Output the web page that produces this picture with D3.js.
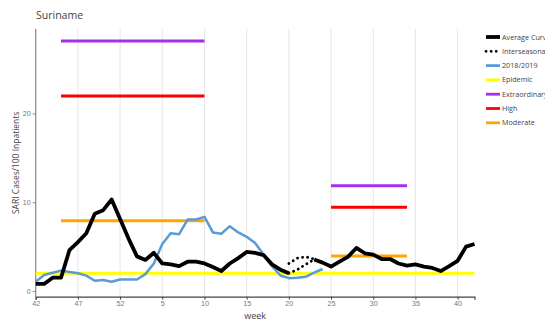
<!DOCTYPE html>
<html>
<head>
<meta charset="utf-8">
<script src="https://cdn.jsdelivr.net/npm/d3@7"></script>
<style>
  body { margin: 0; background: #fff; }
  svg { display: block; font-family: "Open Sans", "DejaVu Sans", sans-serif; }
</style>
</head>
<body>
<svg id="chart" width="545" height="322"></svg>
<script>
// weeks along x axis (season 42 -> 42 next year)
var weeks = [42, 43, 44, 45, 46, 47, 48, 49, 50, 51, 52,
  1, 2, 3, 4, 5, 6, 7, 8, 9, 10, 11, 12, 13, 14, 15, 16, 17, 18, 19, 20,
  21, 22, 23, 24, 25, 26, 27, 28, 29, 30, 31, 32, 33, 34, 35, 36, 37, 38, 39, 40, 41, 42];
var tickWeeks = [42, 47, 52, 5, 10, 15, 20, 25, 30, 35, 40];
var yTicks = [0, 10, 20];

// average curve (null = gap where interseasonal is shown)
var averageCurve = [0.8, 0.8, 1.5, 1.5, 4.6, 5.5, 6.5, 8.7, 9.1, 10.3, 8.1,
  5.9, 3.9, 3.5, 4.3, 3.1, 3.0, 2.8, 3.3, 3.3, 3.1,
  2.7, 2.25, 3.1, 3.7, 4.4, 4.3, 4.05, 3.0, 2.4, 2.0,
  null, null, 3.55, 3.2, 2.75, 3.3, 3.85, 4.85, 4.25, 4.1,
  3.6, 3.6, 3.1, 2.85, 3.0, 2.75, 2.6, 2.25, 2.8, 3.4, 5.0, 5.3];

// interseasonal, two dotted pieces starting at week 20
var interStartWeek = 20;
var interseasonalA = [3.1, 3.7, 3.85, 3.6];
var interseasonalB = [2.0, 2.4, 3.0, 3.55];

// season 2018/2019 (ends at week 24)
var season2018 = [1.05, 1.8, 2.06, 2.3, 2.14, 2.0, 1.73, 1.16, 1.24, 1.05, 1.3,
  1.3, 1.3, 1.9, 3.1, 5.3, 6.5, 6.4, 8.05, 8.05, 8.35,
  6.6, 6.45, 7.3, 6.6, 6.1, 5.4, 4.1, 2.8, 1.75, 1.45,
  1.5, 1.6, 2.06, 2.48];

// thresholds: [start week, end week, value]
var epidemic = [[42, 42, 2.0]];
var extraordinary = [[45, 10, 28.15], [25, 34, 11.86]];
var high = [[45, 10, 21.96], [25, 34, 9.42]];
var moderate = [[45, 10, 7.92], [25, 34, 3.94]];

var legendNames = ["Average Curve", "Interseasonal", "2018/2019", "Epidemic", "Extraordinary", "High", "Moderate"];
var colors = {
  avg: "#000000", blue: "#5b9bd5", epi: "#ffff00",
  extra: "#a42ff0", high: "#ff0000", mod: "#ffa500"
};

var svg = d3.select("#chart");
var margin = {left: 35.7, right: 474.5, top: 29, bottom: 296.7};

var x = d3.scaleLinear().domain([0, weeks.length - 1]).range([margin.left, margin.right]);
var y = d3.scaleLinear().domain([-0.64, 29.5]).range([margin.bottom, margin.top]);

// week -> index; the first occurrence, except the closing 42 which uses the last
function idx(w, last) {
  return last ? weeks.lastIndexOf(w) : weeks.indexOf(w);
}
var tickIdx = tickWeeks.map(function (w) { return idx(w); });

//grid
svg.append("g").selectAll("line")
  .data(tickIdx.slice(1)).enter()
  .append("line")
  .attr("x1", function (d) { return x(d); })
  .attr("x2", function (d) { return x(d); })
  .attr("y1", margin.top)
  .attr("y2", margin.bottom)
  .attr("stroke", "#e6e6e6")
  .attr("stroke-width", 1);

//axes
var xAxis = d3.axisBottom(x)
  .tickValues(tickIdx)
  .tickFormat(function (d) { return weeks[d]; })
  .tickSize(3)
  .tickPadding(1);
var gx = svg.append("g")
  .attr("transform", "translate(0," + margin.bottom + ")")
  .call(xAxis);
gx.select(".domain").attr("stroke", "#444").attr("stroke-width", 1.2);
gx.selectAll(".tick line").attr("stroke", "#444");
gx.selectAll("text").attr("fill", "#777").style("font-size", "7.2px");

var yAxis = d3.axisLeft(y).tickValues(yTicks).tickSize(3).tickPadding(2);
var gy = svg.append("g")
  .attr("transform", "translate(" + margin.left + ",0)")
  .call(yAxis);
gy.select(".domain").attr("stroke", "#888").attr("stroke-width", 1.2)
  .attr("d", "M0," + margin.top + "V" + margin.bottom);
gy.selectAll(".tick line").attr("stroke", "#888");
gy.selectAll("text").attr("fill", "#777").style("font-size", "7.2px");

//titles
svg.append("text")
  .attr("x", 36).attr("y", 19)
  .attr("fill", "#444")
  .style("font-size", "10.5px")
  .text("Suriname");
svg.append("text")
  .attr("x", (margin.left + margin.right) / 2).attr("y", 319)
  .attr("text-anchor", "middle")
  .attr("fill", "#444")
  .style("font-size", "9px")
  .text("week");
svg.append("text")
  .attr("transform", "translate(19," + (margin.top + margin.bottom) / 2 + ") rotate(-90)")
  .attr("text-anchor", "middle")
  .attr("fill", "#444")
  .style("font-size", "8.5px")
  .text("SARI Cases/100 Inpatients");

//threshold lines
function thresholds(data, color) {
  svg.append("g").selectAll("line")
    .data(data).enter()
    .append("line")
    .attr("x1", function (d) { return x(idx(d[0])); })
    .attr("x2", function (d) { return x(idx(d[1], d[1] === d[0])); })
    .attr("y1", function (d) { return y(d[2]); })
    .attr("y2", function (d) { return y(d[2]); })
    .attr("stroke", color)
    .attr("stroke-width", 3);
}
thresholds(epidemic, colors.epi);
thresholds(extraordinary, colors.extra);
thresholds(high, colors.high);
thresholds(moderate, colors.mod);

var line = d3.line()
  .defined(function (d) { return d != null; })
  .x(function (d, i) { return x(i); })
  .y(function (d) { return y(d); });

//2018/2019
svg.append("path")
  .datum(season2018)
  .attr("d", line)
  .attr("fill", "none")
  .attr("stroke", colors.blue)
  .attr("stroke-width", 2.5)
  .attr("stroke-linejoin", "round");

//average curve
svg.append("path")
  .datum(averageCurve)
  .attr("d", line)
  .attr("fill", "none")
  .attr("stroke", colors.avg)
  .attr("stroke-width", 3.8)
  .attr("stroke-linejoin", "round");

//interseasonal
var i0 = idx(interStartWeek);
var dotLine = d3.line()
  .x(function (d, i) { return x(i0 + i); })
  .y(function (d) { return y(d); });
[interseasonalA, interseasonalB].forEach(function (s) {
  svg.append("path")
    .datum(s)
    .attr("d", dotLine)
    .attr("fill", "none")
    .attr("stroke", colors.avg)
    .attr("stroke-width", 2.8)
    .attr("stroke-dasharray", "0.1 5")
    .attr("stroke-linecap", "round");
});

//legend
var legendColors = [colors.avg, colors.avg, colors.blue, colors.epi, colors.extra, colors.high, colors.mod];
var lg = svg.append("g").selectAll("g")
  .data(legendNames).enter()
  .append("g")
  .attr("transform", function (d, i) { return "translate(486," + (37 + i * 14.3) + ")"; });
lg.append("line")
  .attr("x1", 0).attr("x2", 14)
  .attr("stroke", function (d, i) { return legendColors[i]; })
  .attr("stroke-width", function (d, i) { return i === 0 ? 3.8 : 2.8; })
  .attr("stroke-dasharray", function (d, i) { return i === 1 ? "0.1 5" : null; })
  .attr("stroke-linecap", function (d, i) { return i === 1 ? "round" : "butt"; });
lg.append("text")
  .attr("x", 16).attr("dy", "0.35em")
  .attr("fill", "#444")
  .style("font-size", "7.2px")
  .text(function (d) { return d; });
</script>
</body>
</html>
